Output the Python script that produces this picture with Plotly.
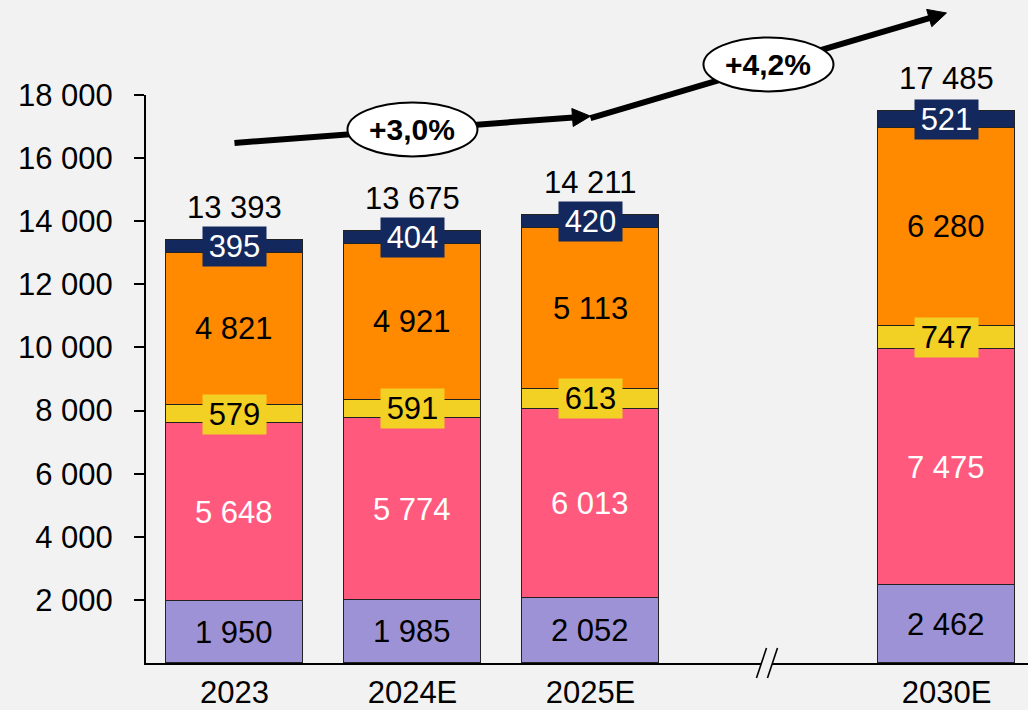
import numpy as np
import plotly.graph_objects as go

# ---------------- data ----------------
categories = ["2023", "2024E", "2025E", "2030E"]
positions = [0, 1, 2, 4]          # category slots (slot 3 = axis break)
seg_lavender = [1950, 1985, 2052, 2462]
seg_pink = [5648, 5774, 6013, 7475]
seg_yellow = [579, 591, 613, 747]
seg_orange = [4821, 4921, 5113, 6280]
seg_navy = [395, 404, 420, 521]
totals = [13393, 13675, 14211, 17485]
cagr_labels = ["+3,0%", "+4,2%"]
y_ticks = [2000, 4000, 6000, 8000, 10000, 12000, 14000, 16000, 18000]

# ---------------- style ----------------
FONT = "Arial, Liberation Sans, sans-serif"
BG = "#F2F2F2"
FS = 31
series = [
    (seg_lavender, "#9E92D6", "black", None),
    (seg_pink, "#FF5A7E", "white", None),
    (seg_yellow, "#F3D024", "black", "#F3D024"),
    (seg_orange, "#FF8A00", "black", None),
    (seg_navy, "#13285C", "white", "#13285C"),
]
W, H = 1028, 710
ML, MR, MT, MB = 146, 0, 95, 47
PW, PH = W - ML - MR, H - MT - MB
XR = [-0.497, 4.458]
YR = [0, 18000]
BAR_W = 0.77


def fmt(v):
    return f"{v:,}".replace(",", " ")


def px(x):
    return ML + (x - XR[0]) / (XR[1] - XR[0]) * PW


def py(y):
    return H - MB - (y - YR[0]) / (YR[1] - YR[0]) * PH


def paper(xpix, ypix):
    return (xpix - ML) / PW, (H - MB - ypix) / PH


fig = go.Figure()
annotations = []
base = np.zeros(len(categories))
for vals, color, tcolor, boxcol in series:
    fig.add_trace(go.Bar(
        x=positions, y=vals, width=BAR_W,
        marker=dict(color=color, line=dict(color="#222222", width=1.2)),
        hoverinfo="skip", showlegend=False,
    ))
    for i, v in enumerate(vals):
        ymid = base[i] + v / 2
        ann = dict(x=positions[i], y=ymid, xref="x", yref="y", text=fmt(v),
                   showarrow=False, font=dict(family=FONT, size=FS, color=tcolor),
                   xanchor="center", yanchor="middle")
        if boxcol:
            ann.update(bgcolor=boxcol, width=63, height=39, borderpad=0)
        annotations.append(ann)
    base += np.array(vals)

for i, t in enumerate(totals):
    annotations.append(dict(x=positions[i], y=t, xref="x", yref="y", text=fmt(t),
                            showarrow=False, yanchor="bottom", yshift=13,
                            font=dict(family=FONT, size=FS, color="black")))

shapes = []
# ---------- growth arrows ----------
arrow_pts = [((0, 16480), (2, 17330)), ((2, 17270), (4, 20600))]
ellipse_y = [16910, 18970]
HEAD_L, HEAD_HW, LW = 18, 9, 6
for k, ((x0, y0), (x1, y1)) in enumerate(arrow_pts):
    p0 = np.array([px(x0), py(y0)])
    p1 = np.array([px(x1), py(y1)])
    d = (p1 - p0) / np.linalg.norm(p1 - p0)
    n = np.array([-d[1], d[0]])
    pb = p1 - d * HEAD_L
    a = paper(*p0)
    b = paper(*(pb + d * 1))
    shapes.append(dict(type="line", xref="paper", yref="paper", x0=a[0], y0=a[1],
                       x1=b[0], y1=b[1], line=dict(color="black", width=LW)))
    tri = [p1, pb + n * HEAD_HW, pb - n * HEAD_HW]
    tp = [paper(*q) for q in tri]
    path = "M {} {} L {} {} L {} {} Z".format(tp[0][0], tp[0][1], tp[1][0], tp[1][1], tp[2][0], tp[2][1])
    shapes.append(dict(type="path", xref="paper", yref="paper", path=path,
                       fillcolor="black", line=dict(color="black", width=1)))
    # ellipse with CAGR label
    cx, cy = px(k * 2 + 1), py(ellipse_y[k])
    e0 = paper(cx - 65, cy + 27)
    e1 = paper(cx + 65, cy - 27)
    shapes.append(dict(type="circle", xref="paper", yref="paper",
                       x0=e0[0], y0=e0[1], x1=e1[0], y1=e1[1],
                       fillcolor="white", line=dict(color="black", width=2)))
    c = paper(cx, cy)
    annotations.append(dict(x=c[0], y=c[1], xref="paper", yref="paper", text="<b>" + cagr_labels[k] + "</b>",
                            showarrow=False, font=dict(family=FONT, size=30, color="black"),
                            xanchor="center", yanchor="middle"))

# ---------- axis break "//" at slot 3 ----------
bx = px(3)
by = py(0)
pts = [(bx - 12, by + 15), (bx - 2, by - 15), (bx + 9, by - 15), (bx - 1, by + 15)]
pp = [paper(*q) for q in pts]
shapes.append(dict(type="path", xref="paper", yref="paper",
                   path="M {} {} L {} {} L {} {} L {} {} Z".format(pp[0][0], pp[0][1], pp[1][0], pp[1][1],
                                                                   pp[2][0], pp[2][1], pp[3][0], pp[3][1]),
                   fillcolor=BG, line=dict(width=0)))
for (q0, q1) in [(pp[0], pp[1]), (pp[3], pp[2])]:
    shapes.append(dict(type="line", xref="paper", yref="paper", x0=q0[0], y0=q0[1],
                       x1=q1[0], y1=q1[1], line=dict(color="black", width=1.6)))

fig.update_layout(
    width=W, height=H,
    margin=dict(l=ML, r=MR, t=MT, b=MB),
    paper_bgcolor=BG, plot_bgcolor=BG,
    barmode="stack", bargap=0,
    separators=", ",
    font=dict(family=FONT, size=FS, color="black"),
    xaxis=dict(range=XR, tickvals=positions, ticktext=categories, showline=True,
               linecolor="black", linewidth=2, showgrid=False, zeroline=False,
               automargin=False,
               ticks="", ticklabelstandoff=1, tickfont=dict(family=FONT, size=FS, color="black")),
    yaxis=dict(range=YR, tickvals=y_ticks, ticktext=[fmt(v) for v in y_ticks], showline=True,
               linecolor="black", linewidth=2, showgrid=False, zeroline=False,
               automargin=False,
               ticks="outside", ticklen=10, tickwidth=2, tickcolor="black",
               ticklabelstandoff=15, tickfont=dict(family=FONT, size=FS, color="black")),
    shapes=shapes,
    annotations=annotations,
)

fig.write_html(
    "out.html",
    config={"displayModeBar": False},
    post_script="document.body.style.margin='0';document.body.style.overflow='hidden';"
                "document.body.style.background='#F2F2F2';",
)
